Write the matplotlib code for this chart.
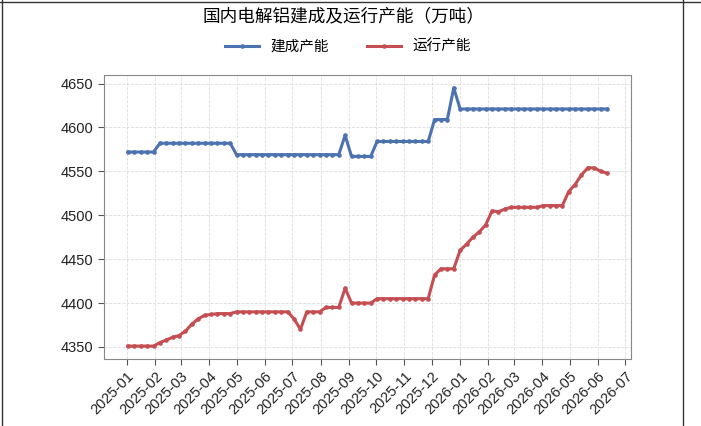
import matplotlib
matplotlib.use("Agg")
import matplotlib.pyplot as plt
import matplotlib.dates as mdates
from matplotlib.lines import Line2D
import pandas as pd

plt.rcParams['font.family'] = ['Liberation Sans', 'Noto Sans CJK SC', 'DejaVu Sans']

# weekly capacity (10k tonnes)
start_date = '2025-01-02'
built = [4572, 4572, 4572, 4572, 4572,
         4582, 4582, 4582, 4582, 4582, 4582, 4582, 4582, 4582, 4582, 4582, 4582,
         4569, 4569, 4569, 4569, 4569, 4569, 4569, 4569, 4569, 4569, 4569, 4569,
         4569, 4569, 4569, 4569, 4569,
         4591,
         4567, 4567, 4567, 4567,
         4584, 4584, 4584, 4584, 4584, 4584, 4584, 4584, 4584,
         4609, 4609, 4609,
         4645,
         4621, 4621, 4621, 4621, 4621, 4621, 4621, 4621, 4621, 4621, 4621, 4621,
         4621, 4621, 4621, 4621, 4621, 4621, 4621, 4621, 4621, 4621, 4621, 4621]
running = [4351, 4351, 4351, 4351, 4351,
           4355, 4358, 4361, 4363, 4368, 4376, 4382, 4386, 4387, 4388, 4388, 4388,
           4390, 4390, 4390, 4390, 4390, 4390, 4390, 4390, 4390,
           4382, 4370,
           4390, 4390, 4390,
           4395, 4395, 4395,
           4417,
           4400, 4400, 4400, 4400,
           4405, 4405, 4405, 4405, 4405, 4405, 4405, 4405, 4405,
           4432,
           4439, 4439, 4439,
           4460, 4467, 4475, 4481, 4489, 4505, 4504, 4507,
           4509, 4509, 4509, 4509, 4509,
           4511, 4511, 4511, 4511,
           4527, 4535, 4546, 4554, 4554, 4550, 4548]
series_names = ['建成产能', '运行产能']
title = '国内电解铝建成及运行产能（万吨）'

dates = pd.date_range(start_date, periods=len(built), freq='7D')

fig = plt.figure(figsize=(7.01, 4.26), dpi=100)
ax = fig.add_axes([104 / 701, 1 - 359 / 426, 527 / 701, 284 / 426])

ax.plot(dates, built, color='#4C72B0', lw=2.2, marker='o', markersize=2.3, label=series_names[0])
ax.plot(dates, running, color='#C44E52', lw=2.2, marker='o', markersize=2.3, label=series_names[1])

ax.xaxis.set_major_locator(mdates.MonthLocator())
ax.xaxis.set_major_formatter(mdates.DateFormatter('%Y-%m'))
plt.setp(ax.get_xticklabels(), rotation=45, ha='right', rotation_mode='anchor')
ax.tick_params(labelsize=10.5, colors='#222222', length=4, color='#555555')
ax.grid(True, linestyle='--', color='#dddddd', lw=0.6)
ax.set_axisbelow(True)
for s in ax.spines.values():
    s.set_color('#888888')

fig.text(343 / 701, 1 - 17 / 426, title, ha='center', va='center', fontsize=12.7)
fig.legend(loc='center', bbox_to_anchor=(348 / 701, 1 - 47 / 426), ncol=2,
           frameon=False, fontsize=10.5, handlelength=2.3, columnspacing=2.6)

# border lines of the surrounding cell
fig.add_artist(Line2D([0, 1], [1 - 2 / 426] * 2, color='#333333', lw=1))
fig.add_artist(Line2D([2 / 701] * 2, [0, 1], color='#333333', lw=1))
fig.add_artist(Line2D([683 / 701] * 2, [0, 1], color='#333333', lw=1))

fig.savefig('out.png', dpi=100)
